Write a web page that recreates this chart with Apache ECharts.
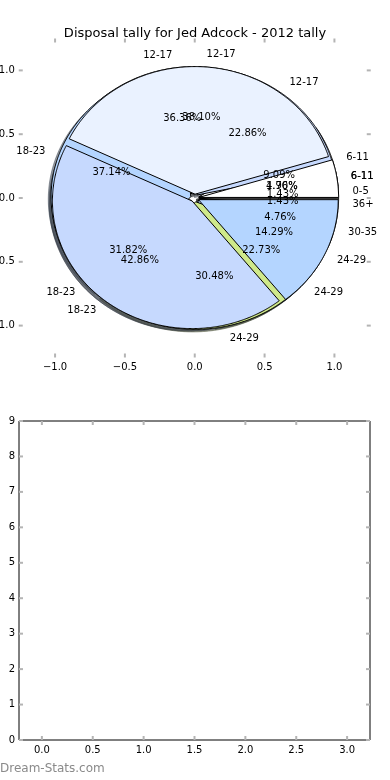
<!DOCTYPE html>
<html><head><meta charset="utf-8">
<script src="https://cdn.jsdelivr.net/npm/echarts@6/dist/echarts.min.js"></script>
<style>html,body{margin:0;padding:0;background:#fff}#c{width:390px;height:780px}</style>
</head><body><div id="c"></div>
<script>
const titleText = 'Disposal tally for Jed Adcock - 2012 tally';
const watermarkText = 'Dream-Stats.com';
// three overlapping pies (drawn A, then C, then B on top)
const pieALabels = ['6-11', '12-17', '18-23', '24-29'];
const pieAValues = [9.09, 36.36, 31.82, 22.73];
const pieBLabels = ['6-11', '12-17', '18-23', '24-29'];
const pieBValues = [4.76, 38.10, 42.86, 14.29];
const pieCLabels = ['0-5', '6-11', '12-17', '18-23', '24-29', '30-35', '36+'];
const pieCValues = [1.43, 1.90, 22.86, 37.14, 30.48, 4.76, 1.43];
const pieTicks = [-1, -0.5, 0, 0.5, 1];
const lowerXTicks = [0, 0.5, 1, 1.5, 2, 2.5, 3];
const lowerYTicks = [0, 1, 2, 3, 4, 5, 6, 7, 8, 9];
const sliceColors = ['#ffffff', '#eaf2ff', '#c6d9fe', '#b4d5ff', '#cfe98a', '#d6e6ff', '#d0d0d0'];

const EXPLODE = 0.03, LABEL_R = 1.1, PCT_R = 0.6, SHADOW = 0.02;
const FONT = 'DejaVu Sans';
const TICK_LEN = 4, TICK_COLOR = '#b4b4b4';

function layout(values, labels) {
  const total = values.reduce((a, b) => a + b, 0);
  let acc = 0;
  return values.map((v, i) => {
    const t1 = acc / total; acc += v; const t2 = acc / total;
    return { label: labels[i], value: v, t1, t2, pct: v.toFixed(2) + '%', color: sliceColors[i % sliceColors.length] };
  });
}
const pieA = layout(pieAValues, pieALabels);
const pieB = layout(pieBValues, pieBLabels);
const pieC = layout(pieCValues, pieCLabels);
const drawOrder = [pieA, pieC, pieB];

function darken(hex) {
  const r = parseInt(hex.slice(1, 3), 16), g = parseInt(hex.slice(3, 5), 16), b = parseInt(hex.slice(5, 7), 16);
  return 'rgba(' + Math.round(r * 0.3) + ',' + Math.round(g * 0.3) + ',' + Math.round(b * 0.3) + ',0.5)';
}

function wedgeSeries(slices, z, shadow) {
  return {
    type: 'custom', xAxisIndex: 0, yAxisIndex: 0, z: z, silent: true, clip: false,
    data: slices.map((s, i) => [i, s.value]),
    renderItem: function (params, api) {
      const s = slices[api.value(0)];
      const a1 = s.t1 * 2 * Math.PI, a2 = s.t2 * 2 * Math.PI, am = (a1 + a2) / 2;
      let cx = EXPLODE * Math.cos(am), cy = EXPLODE * Math.sin(am);
      if (shadow) { cx -= SHADOW; cy -= SHADOW; }
      const pts = [api.coord([cx, cy])];
      const n = Math.max(2, Math.ceil((a2 - a1) / (Math.PI / 360)));
      for (let k = 0; k <= n; k++) {
        const a = a1 + (a2 - a1) * k / n;
        pts.push(api.coord([cx + Math.cos(a), cy + Math.sin(a)]));
      }
      const style = shadow
        ? { fill: darken(s.color), stroke: darken(s.color), lineWidth: 1 }
        : { fill: s.color, stroke: '#000', lineWidth: 1, lineJoin: 'miter' };
      return { type: 'polygon', shape: { points: pts }, style: style };
    }
  };
}

function labelSeries(slices, z) {
  return {
    type: 'custom', xAxisIndex: 0, yAxisIndex: 0, z: z, silent: true, clip: false,
    data: slices.map((s, i) => [i, s.value]),
    renderItem: function (params, api) {
      const s = slices[api.value(0)];
      const am = (s.t1 + s.t2) * Math.PI;
      const cx = EXPLODE * Math.cos(am), cy = EXPLODE * Math.sin(am);
      const xt = cx + LABEL_R * Math.cos(am), yt = cy + LABEL_R * Math.sin(am);
      const xp = cx + PCT_R * Math.cos(am), yp = cy + PCT_R * Math.sin(am);
      const p1 = api.coord([xt, yt]), p2 = api.coord([xp, yp]);
      return {
        type: 'group', children: [
          { type: 'text', x: p1[0], y: p1[1], style: { text: s.label, fill: '#000', font: '10px "' + FONT + '"', align: xt > 0 ? 'left' : 'right', verticalAlign: 'middle' } },
          { type: 'text', x: p2[0], y: p2[1], style: { text: s.pct, fill: '#000', font: '10px "' + FONT + '"', align: 'center', verticalAlign: 'middle' } }
        ]
      };
    }
  };
}

// tick marks on all four sides, placed through the axis scales (api.coord)
function tickSeries(axisIdx, xTicks, yTicks) {
  const data = [];
  xTicks.forEach(v => data.push([0, v]));
  yTicks.forEach(v => data.push([1, v]));
  return {
    type: 'custom', xAxisIndex: axisIdx, yAxisIndex: axisIdx, z: 20, silent: true, clip: false,
    encode: { x: -1, y: -1 },
    data: data,
    renderItem: function (params, api) {
      const cs = params.coordSys;
      const kind = api.value(0), v = api.value(1);
      const st = { stroke: TICK_COLOR, lineWidth: 2 };
      if (kind === 0) {
        const px = api.coord([v, yTicks[0]])[0];
        return { type: 'group', children: [
          { type: 'line', shape: { x1: px, y1: cs.y + cs.height, x2: px, y2: cs.y + cs.height - TICK_LEN }, style: st },
          { type: 'line', shape: { x1: px, y1: cs.y, x2: px, y2: cs.y + TICK_LEN }, style: st }
        ] };
      }
      const py = api.coord([xTicks[0], v])[1];
      return { type: 'group', children: [
        { type: 'line', shape: { x1: cs.x, y1: py, x2: cs.x + TICK_LEN, y2: py }, style: st },
        { type: 'line', shape: { x1: cs.x + cs.width, y1: py, x2: cs.x + cs.width - TICK_LEN, y2: py }, style: st }
      ] };
    }
  };
}

const fmt1 = v => (v < 0 ? '\u2212' : '') + Math.abs(v).toFixed(1);
const labelStyle = { color: '#000', fontSize: 10, fontFamily: FONT };

function xAxisDef(gridIndex, min, max, ticks) {
  return {
    type: 'value', gridIndex, min, max, position: 'bottom',
    axisLine: { show: false, onZero: false }, splitLine: { show: false }, axisTick: { show: false },
    axisLabel: Object.assign({ show: true, customValues: ticks, formatter: fmt1, margin: 5 }, labelStyle)
  };
}
function yAxisDef(gridIndex, min, max, ticks, interval, formatter) {
  const d = {
    type: 'value', gridIndex, min, max, position: 'left',
    axisLine: { show: false, onZero: false }, splitLine: { show: false }, axisTick: { show: false },
    axisLabel: Object.assign({ show: true, formatter: formatter, margin: 4 }, labelStyle)
  };
  if (ticks) d.axisLabel.customValues = ticks;
  if (interval) d.interval = interval;
  return d;
}

const series = [];
drawOrder.forEach((p, i) => series.push(wedgeSeries(p, 1 + i * 0.01, true)));
drawOrder.forEach((p, i) => series.push(wedgeSeries(p, 2 + i, false)));
drawOrder.forEach((p, i) => series.push(labelSeries(p, 10 + i)));
series.push(tickSeries(0, pieTicks, pieTicks));
series.push(tickSeries(1, lowerXTicks, lowerYTicks));

const chart = echarts.init(document.getElementById('c'), null, { renderer: 'canvas' });
chart.setOption({
  animation: false,
  backgroundColor: '#fff',
  title: { text: titleText, left: 'center', top: 22, textStyle: { fontFamily: FONT, fontSize: 13, fontWeight: 'normal', color: '#000' } },
  grid: [
    { left: 18.75, top: 38.5, width: 352, height: 319, show: false, outerBoundsMode: 'none' },
    { left: 19, top: 421, width: 351, height: 319, show: true, borderColor: '#000', borderWidth: 1, backgroundColor: 'rgba(0,0,0,0)', outerBoundsMode: 'none' }
  ],
  xAxis: [
    xAxisDef(0, -1.26, 1.26, pieTicks),
    xAxisDef(1, -0.225, 3.225, lowerXTicks)
  ],
  yAxis: [
    yAxisDef(0, -1.25, 1.25, pieTicks, null, fmt1),
    yAxisDef(1, 0, 9, null, 1, v => String(v))
  ],
  graphic: [
    { type: 'text', left: 0, top: 763, style: { text: watermarkText, fill: '#8a8a8a', font: '12px "' + FONT + '"' } }
  ],
  series: series
});
</script>
</body></html>
